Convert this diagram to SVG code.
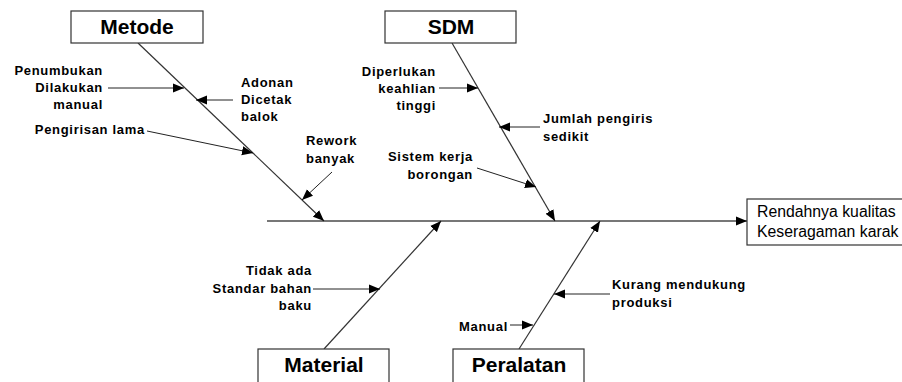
<svg xmlns="http://www.w3.org/2000/svg" width="902" height="382" viewBox="0 0 902 382">
<style>
.box{fill:#fff;stroke:#333;stroke-width:1.2}
.title{font-family:"Liberation Sans",Arial,sans-serif;font-weight:bold;font-size:21px;fill:#000;text-anchor:middle}
.lbl{font-family:"Liberation Sans",Arial,sans-serif;font-weight:bold;font-size:13px;letter-spacing:0.7px;fill:#000}
.r{text-anchor:end}
.res{font-family:"Liberation Sans",Arial,sans-serif;font-size:15.8px;fill:#000}
.bone{stroke:#333;stroke-width:1.2;fill:none}
.spine{stroke:#777;stroke-width:2;fill:none}
.sub{stroke:#222;stroke-width:1;fill:none}
</style>
<defs>
<marker id="ah" markerUnits="userSpaceOnUse" markerWidth="12" markerHeight="10" refX="11" refY="5" orient="auto" viewBox="0 0 12 10">
<path d="M0,0.5 L11,5 L0,9.5 z" fill="#000"/>
</marker>
</defs>
<rect width="902" height="382" fill="#fff"/>
<g id="connectors">
<line class="spine" x1="267" y1="221" x2="747" y2="221" marker-end="url(#ah)"/>
<line class="bone" x1="138" y1="43" x2="324" y2="221" marker-end="url(#ah)"/>
<line class="bone" x1="452" y1="43" x2="555" y2="221" marker-end="url(#ah)"/>
<line class="bone" x1="324" y1="349" x2="441" y2="221" marker-end="url(#ah)"/>
<line class="bone" x1="519" y1="349" x2="600" y2="221" marker-end="url(#ah)"/>
<line class="sub" x1="108" y1="88" x2="184" y2="88" marker-end="url(#ah)"/>
<line class="sub" x1="233" y1="100" x2="196" y2="100" marker-end="url(#ah)"/>
<line class="sub" x1="147" y1="131" x2="253" y2="153" marker-end="url(#ah)"/>
<line class="sub" x1="332" y1="172" x2="302" y2="200" marker-end="url(#ah)"/>
<line class="sub" x1="439" y1="88" x2="478" y2="88" marker-end="url(#ah)"/>
<line class="sub" x1="540" y1="127" x2="499" y2="127" marker-end="url(#ah)"/>
<line class="sub" x1="477" y1="168" x2="536" y2="187" marker-end="url(#ah)"/>
<line class="sub" x1="313" y1="289" x2="380" y2="289" marker-end="url(#ah)"/>
<line class="sub" x1="610" y1="294" x2="554" y2="294" marker-end="url(#ah)"/>
<line class="sub" x1="510" y1="325" x2="533" y2="325" marker-end="url(#ah)"/>
</g>
<g id="metode">
<rect class="box" x="71" y="11" width="132" height="32"/>
<text class="title" x="137" y="34">Metode</text>
</g>
<g id="sdm">
<rect class="box" x="385" y="11" width="131" height="32"/>
<text class="title" x="451" y="34">SDM</text>
</g>
<g id="material">
<rect class="box" x="258" y="349" width="131" height="40"/>
<text class="title" x="324" y="372">Material</text>
</g>
<g id="peralatan">
<rect class="box" x="453" y="349" width="131" height="40"/>
<text class="title" x="519" y="372">Peralatan</text>
</g>
<g id="result">
<rect class="box" x="747" y="199" width="160" height="46"/>
<text class="res" x="757" y="217">Rendahnya kualitas</text>
<text class="res" x="757" y="237">Keseragaman karak</text>
</g>
<g id="metode-causes">
<text class="lbl r" x="103" y="75">Penumbukan</text>
<text class="lbl r" x="103" y="92">Dilakukan</text>
<text class="lbl r" x="103" y="109">manual</text>
<text class="lbl" x="241" y="87">Adonan</text>
<text class="lbl" x="241" y="104">Dicetak</text>
<text class="lbl" x="241" y="121">balok</text>
<text class="lbl r" x="145" y="134">Pengirisan lama</text>
<text class="lbl" x="306" y="145">Rework</text>
<text class="lbl" x="306" y="163">banyak</text>
</g>
<g id="sdm-causes">
<text class="lbl r" x="436" y="76">Diperlukan</text>
<text class="lbl r" x="436" y="93">keahlian</text>
<text class="lbl r" x="436" y="110">tinggi</text>
<text class="lbl" x="543" y="123">Jumlah pengiris</text>
<text class="lbl" x="543" y="141">sedikit</text>
<text class="lbl r" x="473" y="161">Sistem kerja</text>
<text class="lbl r" x="473" y="179">borongan</text>
</g>
<g id="material-causes">
<text class="lbl r" x="312" y="275">Tidak ada</text>
<text class="lbl r" x="312" y="293">Standar bahan</text>
<text class="lbl r" x="312" y="310">baku</text>
</g>
<g id="peralatan-causes">
<text class="lbl" x="612" y="289">Kurang mendukung</text>
<text class="lbl" x="612" y="307">produksi</text>
<text class="lbl r" x="508" y="331">Manual</text>
</g>
</svg>
